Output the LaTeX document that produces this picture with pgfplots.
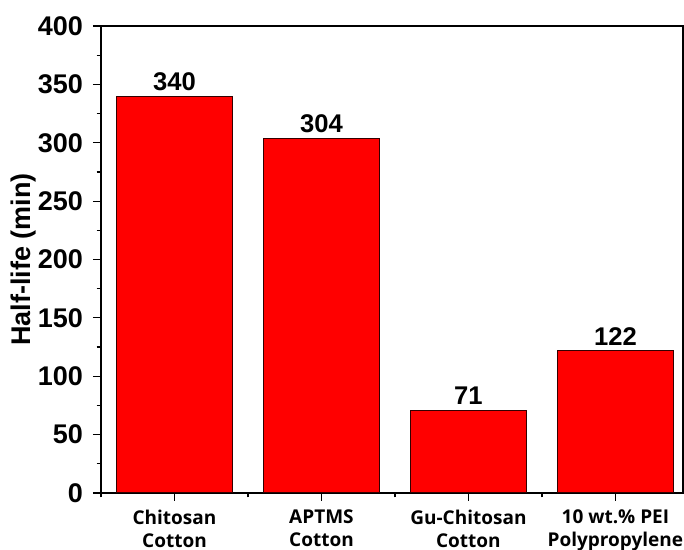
\documentclass[border=0pt]{standalone}
\usepackage{fontspec}
\setmainfont{Liberation Sans}
\newfontfamily\xfont{Open Sans}
\usepackage{pgfplots}
\pgfplotsset{compat=1.18}
\usetikzlibrary{calc}

\begin{document}
\begin{tikzpicture}
  \begin{axis}[
    scale only axis,
    width=291pt, height=233.5pt,
    xmin=-0.5, xmax=3.46,
    ymin=0, ymax=400,
    ytick={0,50,...,400},
    minor y tick num=1,
    xtick=data,
    xticklabels={{Chitosan\\Cotton},{APTMS\\Cotton},{Gu-Chitosan\\Cotton},{10 wt.\% PEI\\Polypropylene}},
    minor xtick={-0.5,0.5,1.5,2.5},
    xtick pos=bottom, ytick pos=left,
    tick align=outside,
    major tick length=4pt,
    minor tick length=2.2pt,
    every tick/.style={black, line width=0.6pt},
    axis line style={line width=0.75pt},
    /pgf/number format/assume math mode=true,
    yticklabel style={font=\fontsize{13.5}{14}\selectfont\bfseries, xshift=-1.5pt},
    xticklabel style={font=\xfont\fontsize{9.5}{11.5}\selectfont\bfseries, align=center, yshift=-1pt},
    ylabel={Half-life (min)},
    ylabel style={font=\fontsize{13.5}{14}\selectfont\bfseries, yshift=-6pt},
    nodes near coords,
    every node near coord/.append style={font=\fontsize{12.8}{14}\selectfont\bfseries, black, yshift=-1pt},
  ]
    \addplot[ybar, bar width=0.79, fill=red, draw=black!80!red, line width=0.5pt]
      coordinates {(0,340) (1,304) (2,71) (3,122)};
  \end{axis}
  \pgfresetboundingbox
  \path ($(current axis.south west)+(-50.5pt,-28.5pt)$) rectangle ($(current axis.north east)+(0.5pt,13pt)$);
\end{tikzpicture}
\end{document}
